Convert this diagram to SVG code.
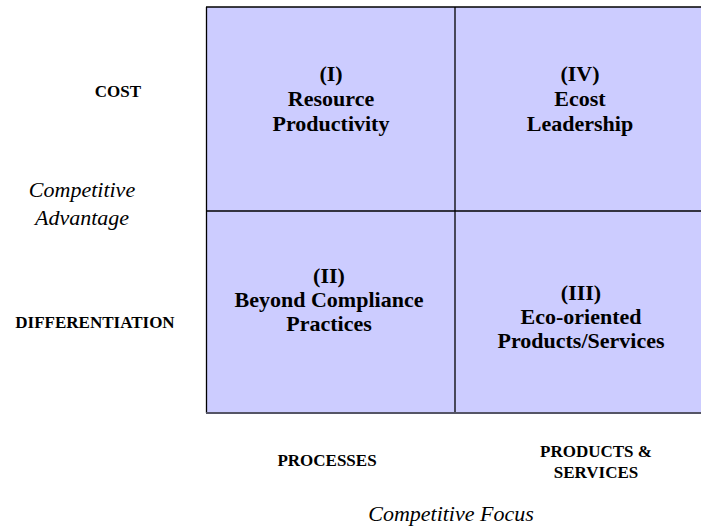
<svg xmlns="http://www.w3.org/2000/svg" width="701" height="529" viewBox="0 0 701 529">
<style>
.q{font-family:"Liberation Serif","Times New Roman",serif;font-weight:bold;font-size:22px;fill:#000;text-anchor:middle}
.lab{font-family:"Liberation Serif","Times New Roman",serif;font-weight:bold;font-size:17px;fill:#000;text-anchor:middle}
.ax{font-family:"Liberation Serif","Times New Roman",serif;font-style:italic;font-size:22px;fill:#000;text-anchor:middle}
.cell{fill:#CCCCFF;stroke:none}
.grid{stroke:#000;stroke-width:1.3;fill:none}
</style>
<rect width="701" height="529" fill="#fff"/>
<g id="q1"><rect class="cell" x="206" y="7" width="249" height="204"/>
<text class="q" x="331"><tspan x="331" y="81">(I)</tspan><tspan x="331" y="106">Resource</tspan><tspan x="331" y="131">Productivity</tspan></text></g>
<g id="q4"><rect class="cell" x="455" y="7" width="248" height="204"/>
<text class="q" x="580"><tspan x="580" y="81">(IV)</tspan><tspan x="580" y="106">Ecost</tspan><tspan x="580" y="131">Leadership</tspan></text></g>
<g id="q2"><rect class="cell" x="206" y="211" width="249" height="202"/>
<text class="q" x="329"><tspan x="329" y="283">(II)</tspan><tspan x="329" y="307">Beyond Compliance</tspan><tspan x="329" y="331">Practices</tspan></text></g>
<g id="q3"><rect class="cell" x="455" y="211" width="248" height="202"/>
<text class="q" x="581"><tspan x="581" y="300">(III)</tspan><tspan x="581" y="324">Eco-oriented</tspan><tspan x="581" y="348">Products/Services</tspan></text></g>
<g id="connectors">
<line class="grid" x1="206" y1="7" x2="703" y2="7"/>
<line class="grid" x1="206.5" y1="7" x2="206.5" y2="413"/>
<line class="grid" x1="455" y1="7" x2="455" y2="413"/>
<line class="grid" x1="206" y1="211" x2="703" y2="211"/>
<line x1="206" y1="413" x2="703" y2="413" stroke="#555566" stroke-width="2"/>
</g>
<g id="labels">
<text class="lab" x="118" y="97">COST</text>
<text class="lab" x="95" y="328">DIFFERENTIATION</text>
<text class="ax" x="82" y="197">Competitive</text>
<text class="ax" x="82" y="225">Advantage</text>
<text class="lab" x="327" y="466">PROCESSES</text>
<text class="lab" x="596" y="457">PRODUCTS &amp;</text>
<text class="lab" x="596" y="478">SERVICES</text>
<text class="ax" x="451" y="521">Competitive Focus</text>
</g>
</svg>
